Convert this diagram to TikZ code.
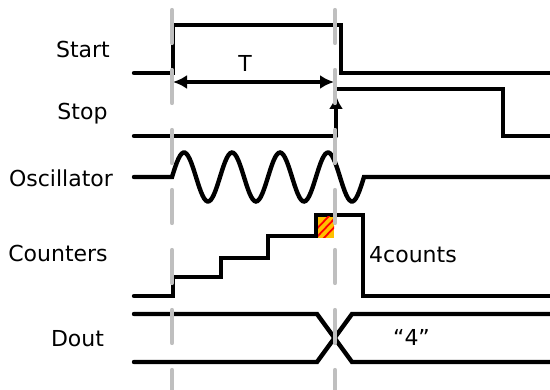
\documentclass[tikz,border=0pt]{standalone}
\usepackage{fontspec}
\setmainfont{DejaVu Sans}
\usepackage{xcolor}
\usepackage{tikz}
\usetikzlibrary{arrows.meta}
\definecolor{tdcGray}{HTML}{BFBFBF}
\definecolor{tdcOrange}{HTML}{FFC000}
\definecolor{tdcRed}{HTML}{FF0000}
\begin{document}
\begin{tikzpicture}[x=1pt,y=-1pt,font=\fontsize{22}{24}\selectfont]
  \tikzset{sig/.style={line width=4.4pt,line cap=round},
    marker/.style={draw=tdcGray,line width=4.2pt,line cap=round,dash pattern=on 33pt off 27pt},
    lbl/.style={anchor=base,inner sep=0pt}}
  \useasboundingbox (0,0) rectangle (550,390);
  \node[lbl] (start) at (83,58) {Start};
  \node[lbl] (stop) at (82.5,120) {Stop};
  \node[lbl] (osc) at (61,187) {Oscillator};
  \node[lbl] (cnt) at (58,262) {Counters};
  \node[lbl] (dout) at (77.5,347) {Dout};
  \node[lbl] (tlabel) at (245,72) {T};
  \node[lbl] (counts) at (413,263) {4counts};
  \node[lbl] (value) at (411.5,346) {“4”};
  \draw[sig] (134,73) -- (173,73) -- (173,25) -- (341,25) -- (341,73) -- (550,73);
  \draw[sig] (134,136) -- (336,136);
  \draw[sig] (336,89) -- (503,89) -- (503,136) -- (550,136);
  \draw[sig] (134,177) -- (172,177) -- plot[domain=172:364,samples=120] (\x,{177-24.5*sin(7.5*(\x-172))}) -- (550,177);
  \draw[sig] (134,296) -- (173,296) -- (173,277) -- (221,277) -- (221,258) -- (268,258) -- (268,236) -- (316,236) -- (316,215) -- (363,215) -- (363,296) -- (550,296);
  \fill[tdcOrange] (318,217) rectangle (334,238);
  \begin{scope}
    \clip (318,217) rectangle (334,238);
    \foreach \d in {-8,0,8}
      \draw[tdcRed,line width=1.8pt] (314+\d,240) -- (338+\d,215);
  \end{scope}
  \draw[sig] (134,314) -- (317,314) -- (352,362) -- (550,362);
  \draw[sig] (134,362) -- (317,362) -- (352,314) -- (550,314);
  \coordinate (tleft) at (173,82);
  \coordinate (tright) at (334,82);
  \coordinate (stoplo) at (336,136);
  \coordinate (stophi) at (336,95);
  \draw[line width=4pt,{Latex[length=14pt,width=14pt]}-{Latex[length=14pt,width=14pt]}] (tleft) -- (tright);
  \draw[line width=4pt,-{Latex[length=14pt,width=14pt]}] (stoplo) -- (stophi);
  \draw[marker] (172,10) -- (172,395);
  \draw[marker] (335,10) -- (335,395);
\end{tikzpicture}
\end{document}
